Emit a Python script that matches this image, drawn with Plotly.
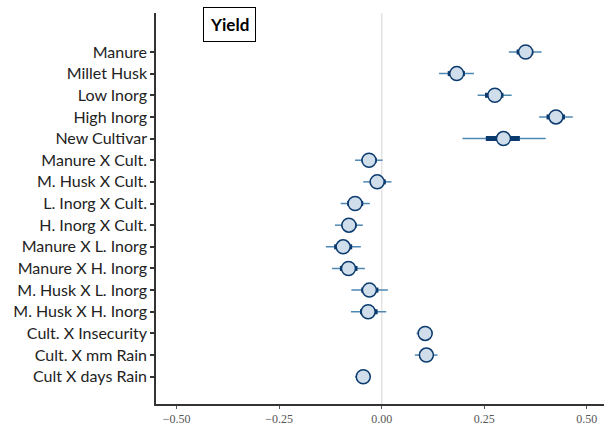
import plotly.graph_objects as go

categories = ["Manure", "Millet Husk", "Low Inorg", "High Inorg", "New Cultivar",
              "Manure X Cult.", "M. Husk X Cult.", "L. Inorg X Cult.", "H. Inorg X Cult.",
              "Manure X L. Inorg", "Manure X H. Inorg", "M. Husk X L. Inorg",
              "M. Husk X H. Inorg", "Cult. X Insecurity", "Cult. X mm Rain", "Cult X days Rain"]
estimate = [0.351, 0.183, 0.276, 0.425, 0.297, -0.031, -0.011, -0.065, -0.080,
            -0.094, -0.081, -0.030, -0.033, 0.106, 0.109, -0.045]
outer_lo = [0.310, 0.140, 0.234, 0.384, 0.197, -0.065, -0.045, -0.100, -0.114,
            -0.136, -0.121, -0.074, -0.075, 0.085, 0.081, -0.065]
outer_hi = [0.390, 0.225, 0.317, 0.466, 0.400, 0.002, 0.024, -0.029, -0.046,
            -0.051, -0.041, 0.015, 0.011, 0.124, 0.136, -0.026]
inner_lo = [0.329, 0.161, 0.252, 0.402, 0.254, -0.049, -0.029, -0.084, -0.098,
            -0.116, -0.102, -0.050, -0.053, 0.095, 0.093, -0.055]
inner_hi = [0.370, 0.203, 0.297, 0.447, 0.337, -0.012, 0.010, -0.045, -0.061,
            -0.072, -0.059, -0.008, -0.010, 0.117, 0.124, -0.035]
x_ticks = [-0.50, -0.25, 0.00, 0.25, 0.50]
panel_title = "Yield"

navy = "#0b3a6f"
steel = "#4f87b3"
fill = "#cfdeea"

def seg(lo, hi):
    xs, ys = [], []
    for c, a, b in zip(categories, lo, hi):
        xs += [a, b, None]
        ys += [c, c, None]
    return xs, ys

fig = go.Figure()
fig.add_shape(type="line", x0=0, x1=0, y0=0, y1=1, xref="x", yref="paper",
              line=dict(color="#e3e3e3", width=1.5), layer="below")
xo, yo = seg(outer_lo, outer_hi)
fig.add_trace(go.Scatter(x=xo, y=yo, mode="lines", line=dict(color=steel, width=1.5),
                         hoverinfo="skip", showlegend=False))
xi, yi = seg(inner_lo, inner_hi)
fig.add_trace(go.Scatter(x=xi, y=yi, mode="lines", line=dict(color=navy, width=5),
                         hoverinfo="skip", showlegend=False))
fig.add_trace(go.Scatter(x=estimate, y=categories, mode="markers",
                         marker=dict(size=14, color=fill, line=dict(color=navy, width=1.5)),
                         showlegend=False))

fig.add_annotation(text="<b>" + panel_title + "</b>", xref="paper", yref="paper",
                   x=(229.5 - 156) / 448, y=0.970, xanchor="center", yanchor="middle",
                   showarrow=False, font=dict(family="Lato, Open Sans, sans-serif", size=17, color="black"),
                   bordercolor="black", borderwidth=1, borderpad=6, bgcolor="white")

fig.update_layout(
    width=604, height=427,
    margin=dict(l=156, r=0, t=13, b=23),
    plot_bgcolor="white", paper_bgcolor="white",
    xaxis=dict(range=[-0.5505, 0.5422], tickvals=x_ticks,
               ticktext=[f"{v:.2f}".replace("-", "\u2212") for v in x_ticks],
               showgrid=False, zeroline=False, showline=True, linecolor="#333", linewidth=1.5,
               ticks="outside", ticklen=3, tickcolor="#555",
               tickfont=dict(family="Liberation Serif, serif", size=12, color="#555")),
    yaxis=dict(categoryorder="array", categoryarray=categories, range=[16.26, -1.8],
               showgrid=False, zeroline=False, showline=True, linecolor="#333", linewidth=1.5,
               ticks="outside", ticklen=4, tickwidth=2, tickcolor="#333",
               tickfont=dict(family="Lato, Open Sans, sans-serif", size=16, color="#222")),
)

fig.write_html("out.html", config={"displayModeBar": False},
               post_script="document.body.style.margin='0';document.body.style.overflow='hidden';")
